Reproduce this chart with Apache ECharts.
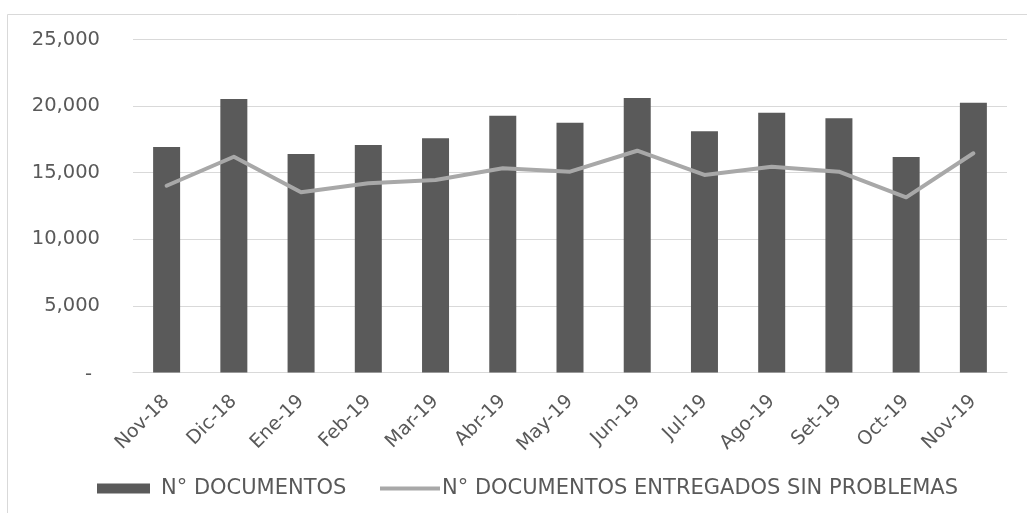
<!DOCTYPE html>
<html>
<head>
<meta charset="utf-8">
<script src="https://cdn.jsdelivr.net/npm/echarts@6/dist/echarts.min.js"></script>
<style>
  html, body { margin: 0; padding: 0; background: #ffffff; }
  #chart { width: 1027px; height: 513px; }
</style>
</head>
<body>
<div id="chart"></div>
<script>
// Monthly document counts, Nov-18 to Nov-19
const months = ['Nov-18', 'Dic-18', 'Ene-19', 'Feb-19', 'Mar-19', 'Abr-19', 'May-19',
                'Jun-19', 'Jul-19', 'Ago-19', 'Set-19', 'Oct-19', 'Nov-19'];
const documentos = [16930, 20530, 16400, 17080, 17580, 19280, 18750,
                    20610, 18110, 19500, 19080, 16180, 20260];
const entregadosSinProblemas = [14020, 16200, 13530, 14200, 14450, 15330, 15080,
                                16650, 14830, 15450, 15080, 13150, 16460];
const seriesNames = ['N° DOCUMENTOS', 'N° DOCUMENTOS ENTREGADOS SIN PROBLEMAS'];

const FONT = 'DejaVu Sans';
const TEXT = '#595959';
const BAR_COLOR = '#5a5a5a';
const LINE_COLOR = '#a8a8a8';

const chart = echarts.init(document.getElementById('chart'), null, { renderer: 'canvas' });

chart.setOption({
  backgroundColor: '#ffffff',
  animation: false,
  graphic: [{
    type: 'rect',
    shape: { x: 7.5, y: 14.5, width: 1040, height: 520 },
    style: { fill: 'none', stroke: '#d9d9d9', lineWidth: 1 },
    silent: true
  }],
  grid: { left: 133, right: 20, top: 39.5, bottom: 140.5 },
  legend: [
    {
      left: 97,
      top: 478,
      padding: 0,
      selectedMode: false,
      itemWidth: 53,
      itemHeight: 10,
      textStyle: { fontFamily: FONT, fontSize: 21, color: TEXT, padding: [0, 0, 0, 6] },
      data: [{ name: seriesNames[0], icon: 'rect', itemStyle: { color: BAR_COLOR } }]
    },
    {
      left: 380,
      top: 478,
      padding: 0,
      selectedMode: false,
      itemWidth: 60,
      itemHeight: 4,
      textStyle: { fontFamily: FONT, fontSize: 21, color: TEXT, padding: [0, 0, 0, -3] },
      data: [{ name: seriesNames[1], icon: 'rect', itemStyle: { color: LINE_COLOR } }]
    }
  ],
  xAxis: {
    type: 'category',
    data: months,
    axisLine: { show: true, lineStyle: { color: '#d9d9d9', width: 1 } },
    axisTick: { show: false },
    axisLabel: {
      rotate: 45,
      interval: 0,
      margin: 26,
      fontFamily: FONT,
      fontSize: 19,
      color: TEXT
    }
  },
  yAxis: {
    type: 'value',
    min: 0,
    max: 25000,
    interval: 5000,
    axisLine: { show: false },
    axisTick: { show: false },
    splitLine: { lineStyle: { color: '#d9d9d9', width: 1 } },
    axisLabel: {
      margin: 33,
      fontFamily: FONT,
      fontSize: 19.5,
      color: TEXT,
      formatter: function (v) {
        if (v === 0) return '{z|-}';
        return v.toLocaleString('en-US');
      },
      rich: {
        z: { fontFamily: FONT, fontSize: 19.5, color: TEXT, padding: [4, 8, 0, 0] }
      }
    }
  },
  series: [
    {
      name: seriesNames[0],
      type: 'bar',
      data: documentos,
      barWidth: 27,
      itemStyle: { color: BAR_COLOR }
    },
    {
      name: seriesNames[1],
      type: 'line',
      data: entregadosSinProblemas,
      symbol: 'none',
      smooth: false,
      lineStyle: { color: LINE_COLOR, width: 4, cap: 'round', join: 'round' },
      itemStyle: { color: LINE_COLOR }
    }
  ]
});
</script>
</body>
</html>
